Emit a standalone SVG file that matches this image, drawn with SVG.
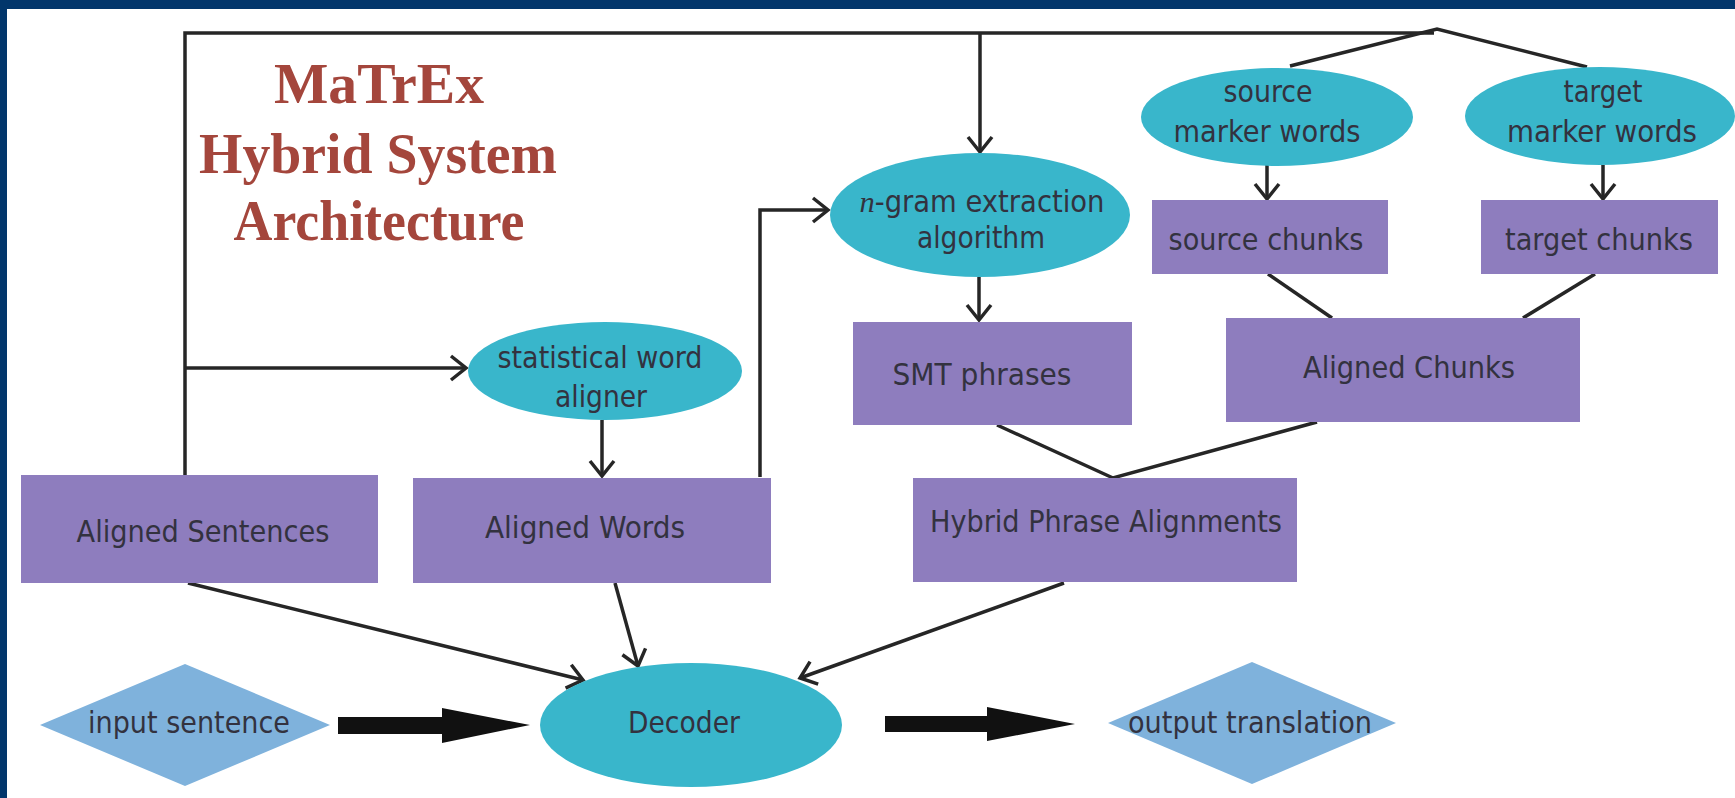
<svg xmlns="http://www.w3.org/2000/svg" width="1735" height="798" viewBox="0 0 1735 798">
<style>
.box{fill:#8E7DBE}
.ell{fill:#39B6CB}
.dia{fill:#7FB2DC}
.lbl{font-family:"DejaVu Sans Condensed","DejaVu Sans",sans-serif;font-size:30px;fill:#33323f;text-anchor:middle}
.title{font-family:"Liberation Serif",serif;font-weight:bold;font-size:56px;fill:#A4463C;text-anchor:middle}
.ln{fill:none;stroke:#262626;stroke-width:3.5}
.thick{fill:#111}
</style>
<defs>
<marker id="arr" markerUnits="userSpaceOnUse" markerWidth="24" markerHeight="32" refX="18" refY="15" orient="auto">
<path d="M3,3 L18,15 L3,27" fill="none" stroke="#262626" stroke-width="3.5"/>
</marker>
</defs>
<rect x="0" y="0" width="1735" height="798" fill="#ffffff"/>
<rect x="0" y="0" width="1735" height="9" fill="#02366B"/>
<rect x="0" y="0" width="7" height="798" fill="#02366B"/>

<g id="title">
<text class="title" x="379" y="103" textLength="210" lengthAdjust="spacingAndGlyphs">MaTrEx</text>
<text class="title" x="378" y="173" textLength="358" lengthAdjust="spacingAndGlyphs">Hybrid System</text>
<text class="title" x="379" y="240" textLength="291" lengthAdjust="spacingAndGlyphs">Architecture</text>
</g>

<g id="connectors">
<path class="ln" d="M185,475 V33 H1434"/>
<path class="ln" d="M1290,66 L1437,29 L1587,67"/>
<path class="ln" d="M185,368 H466" marker-end="url(#arr)"/>
<path class="ln" d="M980,33 V152" marker-end="url(#arr)"/>
<path class="ln" d="M760,477 V210 H828" marker-end="url(#arr)"/>
<path class="ln" d="M602,420 V476" marker-end="url(#arr)"/>
<path class="ln" d="M979,277 V320" marker-end="url(#arr)"/>
<path class="ln" d="M1267,165 V199" marker-end="url(#arr)"/>
<path class="ln" d="M1603,165 V199" marker-end="url(#arr)"/>
<path class="ln" d="M1268,274 L1332,318"/>
<path class="ln" d="M1595,274 L1523,318"/>
<path class="ln" d="M997,425 L1113,478 L1317,422"/>
<path class="ln" d="M188,583 L583,680" marker-end="url(#arr)"/>
<path class="ln" d="M615,583 L638,666" marker-end="url(#arr)"/>
<path class="ln" d="M1064,583 L800,678" marker-end="url(#arr)"/>
<polygon class="thick" points="338,717 442,717 442,708 530,725 442,743 442,734 338,734"/>
<polygon class="thick" points="885,716 987,716 987,707 1075,724 987,741 987,732 885,732"/>
</g>

<g id="aligned-sentences">
<rect class="box" x="21" y="475" width="357" height="108"/>
<text class="lbl" x="203" y="542" textLength="253" lengthAdjust="spacingAndGlyphs">Aligned Sentences</text>
</g>
<g id="statistical-word-aligner">
<ellipse class="ell" cx="605" cy="371" rx="137" ry="49"/>
<text class="lbl" x="600" y="368" textLength="205" lengthAdjust="spacingAndGlyphs">statistical word</text>
<text class="lbl" x="601" y="407" textLength="92" lengthAdjust="spacingAndGlyphs">aligner</text>
</g>
<g id="aligned-words">
<rect class="box" x="413" y="478" width="358" height="105"/>
<text class="lbl" x="585" y="538" textLength="200" lengthAdjust="spacingAndGlyphs">Aligned Words</text>
</g>
<g id="ngram-extraction">
<ellipse class="ell" cx="980" cy="215" rx="150" ry="62"/>
<text class="lbl" x="982" y="212" textLength="245" lengthAdjust="spacingAndGlyphs"><tspan font-family="Liberation Serif, serif" font-style="italic">n</tspan>-gram extraction</text>
<text class="lbl" x="981" y="248" textLength="128" lengthAdjust="spacingAndGlyphs">algorithm</text>
</g>
<g id="smt-phrases">
<rect class="box" x="853" y="322" width="279" height="103"/>
<text class="lbl" x="982" y="385" textLength="179" lengthAdjust="spacingAndGlyphs">SMT phrases</text>
</g>
<g id="source-marker-words">
<ellipse class="ell" cx="1277" cy="117" rx="136" ry="49"/>
<text class="lbl" x="1268" y="102" textLength="89" lengthAdjust="spacingAndGlyphs">source</text>
<text class="lbl" x="1267" y="142" textLength="187" lengthAdjust="spacingAndGlyphs">marker words</text>
</g>
<g id="target-marker-words">
<ellipse class="ell" cx="1600" cy="116" rx="135" ry="49"/>
<text class="lbl" x="1603" y="102" textLength="79" lengthAdjust="spacingAndGlyphs">target</text>
<text class="lbl" x="1602" y="142" textLength="190" lengthAdjust="spacingAndGlyphs">marker words</text>
</g>
<g id="source-chunks">
<rect class="box" x="1152" y="200" width="236" height="74"/>
<text class="lbl" x="1266" y="250" textLength="195" lengthAdjust="spacingAndGlyphs">source chunks</text>
</g>
<g id="target-chunks">
<rect class="box" x="1481" y="200" width="237" height="74"/>
<text class="lbl" x="1599" y="250" textLength="188" lengthAdjust="spacingAndGlyphs">target chunks</text>
</g>
<g id="aligned-chunks">
<rect class="box" x="1226" y="318" width="354" height="104"/>
<text class="lbl" x="1409" y="378" textLength="212" lengthAdjust="spacingAndGlyphs">Aligned Chunks</text>
</g>
<g id="hybrid-phrase-alignments">
<rect class="box" x="913" y="478" width="384" height="104"/>
<text class="lbl" x="1106" y="532" textLength="352" lengthAdjust="spacingAndGlyphs">Hybrid Phrase Alignments</text>
</g>
<g id="decoder">
<ellipse class="ell" cx="691" cy="725" rx="151" ry="62"/>
<text class="lbl" x="684" y="733" textLength="112" lengthAdjust="spacingAndGlyphs">Decoder</text>
</g>
<g id="input-sentence">
<polygon class="dia" points="40,725 185,664 330,725 185,786"/>
<text class="lbl" x="189" y="733" textLength="202" lengthAdjust="spacingAndGlyphs">input sentence</text>
</g>
<g id="output-translation">
<polygon class="dia" points="1108,723 1252,662 1396,723 1252,784"/>
<text class="lbl" x="1250" y="733" textLength="244" lengthAdjust="spacingAndGlyphs">output translation</text>
</g>
</svg>
